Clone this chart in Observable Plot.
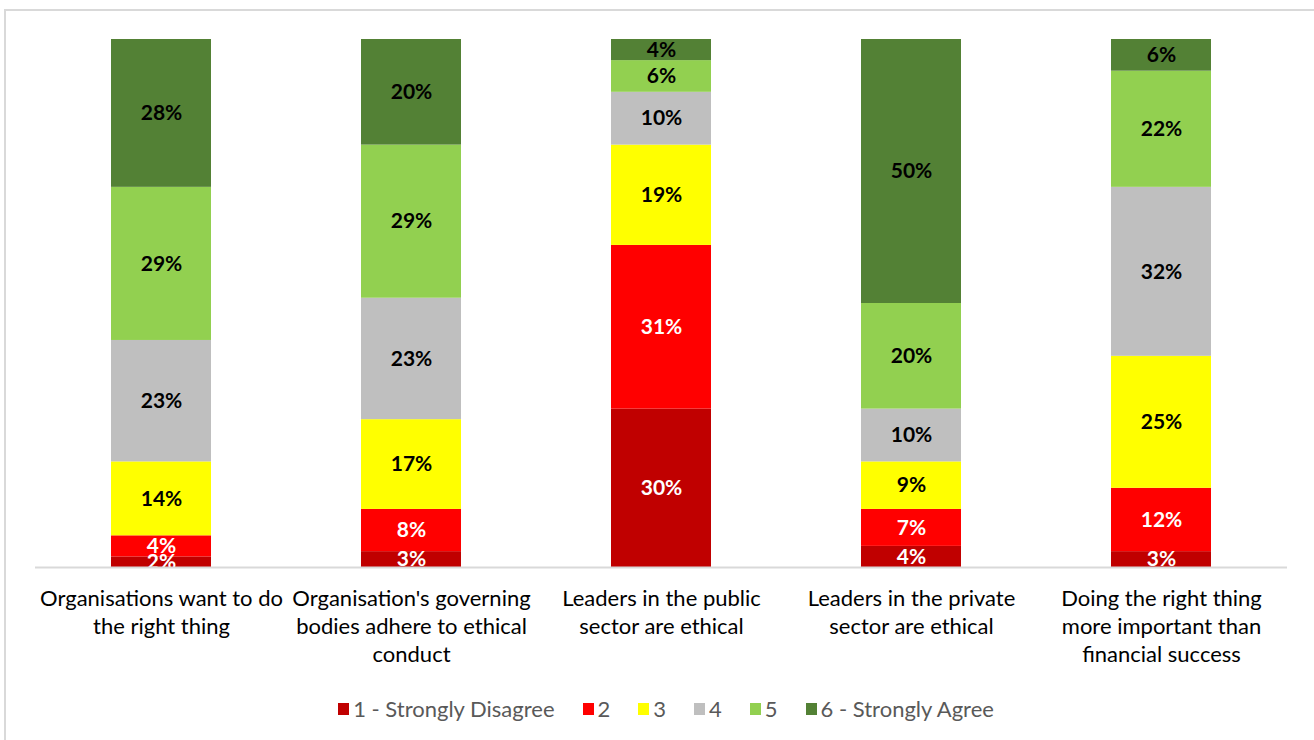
<!DOCTYPE html>
<html>
<head>
<meta charset="utf-8">
<script src="https://cdn.jsdelivr.net/npm/d3@7"></script>
<script src="https://cdn.jsdelivr.net/npm/@observablehq/plot@0.6"></script>
<style>
  html, body { margin: 0; padding: 0; background: #fff; }
  #wrap { position: relative; width: 1314px; height: 740px; overflow: hidden; font-family: Lato, "Open Sans", sans-serif; }
  #frame { position: absolute; left: 4px; top: 9px; width: 1400px; height: 800px; border-left: 2px solid #d9d9d9; border-top: 2px solid #d9d9d9; box-sizing: border-box; }
  #chart { position: absolute; left: 0; top: 0; }
  #legend { position: absolute; left: 0; top: 695px; width: 1314px; display: flex; justify-content: center; padding-left: 18px; box-sizing: border-box; font-size: 22px; color: #595959; }
  .item { display: flex; align-items: center; margin: 0 14px; }
  .sw { width: 11px; height: 12px; margin-right: 4px; }
</style>
</head>
<body>
<div id="wrap">
  <div id="frame"></div>
  <div id="chart"></div>
  <div id="legend"></div>
</div>
<script>
const categories = [
  "Organisations want to do the right thing",
  "Organisation's governing bodies adhere to ethical conduct",
  "Leaders in the public sector are ethical",
  "Leaders in the private sector are ethical",
  "Doing the right thing more important than financial success"
];
const tickLabels = [
  "Organisations want to do\nthe right thing",
  "Organisation's governing\nbodies adhere to ethical\nconduct",
  "Leaders in the public\nsector are ethical",
  "Leaders in the private\nsector are ethical",
  "Doing the right thing\nmore important than\nfinancial success"
];
const seriesNames = ["1 - Strongly Disagree", "2", "3", "4", "5", "6 - Strongly Agree"];
const seriesColors = ["#C00000", "#FF0000", "#FFFF00", "#BFBFBF", "#92D050", "#538135"];
const labelColors = ["#ffffff", "#ffffff", "#000000", "#000000", "#000000", "#000000"];
const s1 = [2, 3, 30, 4, 3];
const s2 = [4, 8, 31, 7, 12];
const s3 = [14, 17, 19, 9, 25];
const s4 = [23, 23, 10, 10, 32];
const s5 = [29, 29, 6, 20, 22];
const s6 = [28, 20, 4, 50, 6];
const seriesValues = [s1, s2, s3, s4, s5, s6];

const data = [];
seriesNames.forEach((s, i) => {
  categories.forEach((c, j) => {
    data.push({category: c, series: s, si: i, value: seriesValues[i][j]});
  });
});
const tickMap = new Map(categories.map((c, i) => [c, tickLabels[i]]));

const chart = Plot.plot({
  width: 1314,
  height: 690,
  marginTop: 39,
  marginBottom: 123,
  marginLeft: 35,
  marginRight: 27,
  style: {fontFamily: "Lato, 'Open Sans', sans-serif", background: "transparent", color: "#000"},
  x: {domain: categories, paddingInner: 0.6, paddingOuter: 0.3},
  y: {domain: [0, 100], axis: null},
  color: {domain: seriesNames, range: seriesColors},
  marks: [
    Plot.barY(data, {x: "category", y: "value", fill: "series", order: seriesNames}),
    Plot.text(data, Plot.stackY({
      x: "category", y: "value", z: "series", order: seriesNames,
      text: d => d.value + "%",
      fill: d => labelColors[d.si],
      fontSize: 21, fontWeight: "bold",
      clip: true
    })),
    Plot.ruleY([0], {stroke: "#d9d9d9", strokeWidth: 2}),
    Plot.axisX({
      tickSize: 0, tickPadding: 19, fontSize: 22, lineHeight: 1.27,
      tickFormat: d => tickMap.get(d), label: null
    })
  ]
});
document.getElementById("chart").appendChild(chart);

const legend = document.getElementById("legend");
seriesNames.forEach((s, i) => {
  const it = document.createElement("div");
  it.className = "item";
  const sw = document.createElement("div");
  sw.className = "sw";
  sw.style.background = seriesColors[i];
  const t = document.createElement("span");
  t.textContent = s;
  it.appendChild(sw);
  it.appendChild(t);
  legend.appendChild(it);
});
</script>
</body>
</html>
